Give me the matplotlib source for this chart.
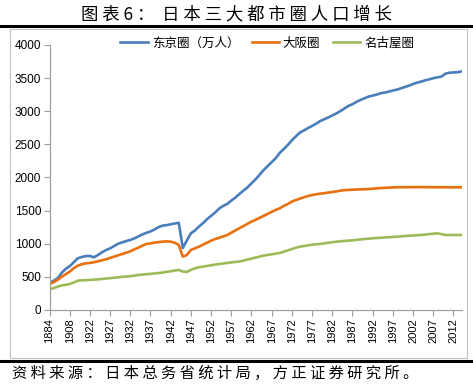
import matplotlib
matplotlib.use("Agg")
import matplotlib.pyplot as plt
from matplotlib.lines import Line2D
from matplotlib.patches import Rectangle

plt.rcParams['font.family'] = ['Noto Sans CJK SC', 'DejaVu Sans']

# categories: irregular early census years, then yearly
years = [1884, 1888, 1893, 1898, 1903, 1908, 1913, 1918, 1920, 1921] + list(range(1922, 2015))

tokyo = [405, 440, 478, 560, 620, 660, 720, 780, 800, 815,
         815, 795, 830, 870, 905, 930, 965, 1000, 1020, 1040,
         1057, 1080, 1110, 1140, 1165, 1185, 1215, 1250, 1273, 1280,
         1293, 1305, 1315, 935, 1050, 1157, 1200, 1258, 1310, 1370,
         1420, 1470, 1530, 1570, 1600, 1650, 1696, 1750, 1800, 1850,
         1910, 1970, 2040, 2110, 2170, 2230, 2290, 2370, 2430, 2490,
         2560, 2620, 2677, 2710, 2745, 2777, 2810, 2850, 2878, 2905,
         2935, 2965, 3000, 3040, 3079, 3105, 3140, 3170, 3195, 3220,
         3235, 3250, 3271, 3280, 3295, 3311, 3325, 3345, 3365, 3385,
         3410, 3430, 3446, 3465, 3480, 3497, 3510, 3521, 3565, 3580,
         3585, 3587, 3600]

osaka = [392, 420, 453, 500, 540, 578, 630, 669, 690, 704,
         710, 720, 735, 750, 765, 785, 805, 825, 845, 865,
         885, 915, 940, 970, 996, 1005, 1016, 1025, 1031, 1035,
         1031, 1015, 981, 805, 830, 906, 930, 956, 985, 1015,
         1046, 1070, 1090, 1110, 1132, 1165, 1200, 1233, 1265, 1300,
         1333, 1360, 1390, 1419, 1450, 1480, 1510, 1535, 1570, 1600,
         1635, 1660, 1680, 1700, 1720, 1735, 1746, 1755, 1762, 1771,
         1780, 1790, 1800, 1808, 1811, 1815, 1818, 1820, 1821, 1825,
         1830, 1835, 1840, 1843, 1846, 1850, 1852, 1852, 1853, 1853,
         1854, 1854, 1854, 1853, 1853, 1852, 1852, 1852, 1852, 1851,
         1851, 1851, 1851]

nagoya = [312, 330, 352, 370, 380, 392, 415, 442, 448, 450,
          453, 458, 462, 468, 475, 480, 487, 493, 500, 505,
          510, 518, 528, 535, 540, 545, 552, 558, 565, 575,
          585, 595, 604, 580, 574, 605, 629, 644, 655, 665,
          675, 685, 694, 702, 710, 718, 725, 730, 745, 760,
          775, 790, 805, 820, 830, 840, 850, 860, 880, 900,
          920, 940, 956, 965, 975, 985, 992, 996, 1005, 1015,
          1022, 1030, 1036, 1042, 1046, 1052, 1058, 1065, 1070, 1076,
          1082, 1086, 1090, 1094, 1098, 1102, 1106, 1110, 1117, 1120,
          1124, 1128, 1132, 1138, 1145, 1150, 1157, 1145, 1132, 1132,
          1132, 1132, 1133]

series_names = ['东京圈（万人）', '大阪圈', '名古屋圈']
series_colors = ['#4A7EBB', '#E8700E', '#9BBB59']

fig = plt.figure(figsize=(4.73, 3.87), dpi=100)

# title and thick rules
fig.text(0.5, 0.963, '图 表 6 ：  日 本 三 大 都 市 圈 人 口 增 长',
         ha='center', va='center', fontsize=12.5)
fig.add_artist(Line2D([0, 1], [0.932, 0.932], color='black', lw=2.2))
fig.add_artist(Line2D([0, 1], [0.067, 0.067], color='black', lw=2.2))
fig.add_artist(Rectangle((10 / 473, 0.074), 457 / 473, 0.85, fill=False,
                         edgecolor='#BFBFBF', lw=0.8))
fig.text(0.025, 0.035, '资 料 来 源 ： 日 本 总 务 省 统 计 局 ， 方 正 证 券 研 究 所 。',
         ha='left', va='center', fontsize=11)

ax = fig.add_axes([49.5 / 473, 0.199, 412 / 473, 0.685])
x = list(range(len(years)))
for vals, name, col in zip([tokyo, osaka, nagoya], series_names, series_colors):
    ax.plot(x, vals, color=col, lw=1.9, label=name, solid_joinstyle='round')

ax.set_xlim(0, len(years) - 1)
ax.set_ylim(0, 4000)
ax.set_yticks(range(0, 4001, 500))
ticks = list(range(0, len(years), 5))
ax.set_xticks(ticks)
ax.set_xticklabels([str(years[i]) for i in ticks], rotation=90,
                   fontsize=8, family='Liberation Sans')
for lab in ax.get_yticklabels():
    lab.set_family('Liberation Sans')
    lab.set_fontsize(8.5)
for s in ['top', 'right']:
    ax.spines[s].set_visible(False)
for s in ['left', 'bottom']:
    ax.spines[s].set_color('#A0A0A0')
    ax.spines[s].set_linewidth(0.9)
ax.tick_params(axis='both', direction='out', length=4, color='#A0A0A0', pad=2)

fig.legend(loc='center', bbox_to_anchor=(0.565, 0.888), ncol=3, frameon=False,
           fontsize=9, handlelength=2.2, handletextpad=0.3, columnspacing=1.0)

fig.savefig('out.png', dpi=100)
